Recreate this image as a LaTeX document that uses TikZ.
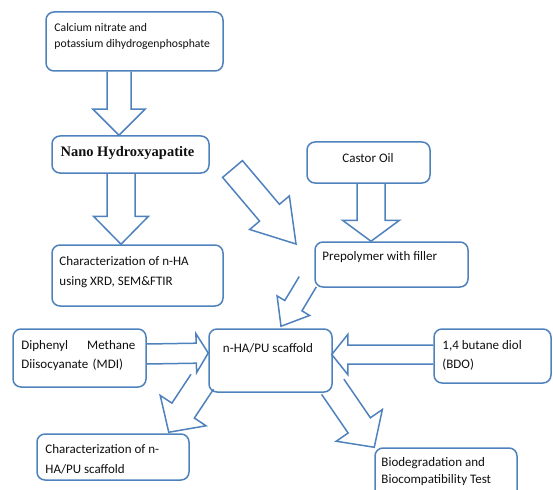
\documentclass[tikz,border=0pt]{standalone}
\usepackage{fontspec}
\setmainfont{Carlito}
\newfontfamily\timesfont{Liberation Serif}
\usetikzlibrary{calc,positioning}
\definecolor{hblue}{RGB}{79,129,189}
\definecolor{inkgrey}{RGB}{15,15,15}

\tikzset{
  box/.style={draw=hblue, line width=1.5pt, rounded corners=8pt, inner sep=0pt},
  txt/.style={inner sep=0pt, anchor=north west, align=left, text=inkgrey, font=\fontsize{13}{20}\selectfont},
  blk/.style={draw=hblue, line width=1.5pt, line join=miter}
}
% hollow block arrow: [end of path], start, tip, shaft half width, head half width, head length
\newcommand{\blkarrow}[6][]{%
  \draw[blk] ($(#2)!#4!90:(#3)$) -- ($(#3)!#6!(#2)!#4!90:(#3)$) -- ($(#3)!#6!(#2)!#5!90:(#3)$)
    -- (#3) -- ($(#3)!#6!(#2)!#5!-90:(#3)$) -- ($(#3)!#6!(#2)!#4!-90:(#3)$) -- ($(#2)!#4!-90:(#3)$) #1;}

\begin{document}
\begin{tikzpicture}[x=1pt,y=-1pt]
\useasboundingbox (0,0) rectangle (553,489);
\clip (0,0) rectangle (553,489);

% boxes
\node[box, minimum width=177pt, minimum height=59pt] (salts) at (134.5,41.5) {};
\node[box, minimum width=157pt, minimum height=37pt] (hyd) at (130.5,154.5) {};
\node[box, minimum width=171pt, minimum height=61pt] (charha) at (137.5,275.5) {};
\node[box, minimum width=123pt, minimum height=41pt] (castor) at (368.5,162.5) {};
\node[box, minimum width=153pt, minimum height=45pt] (prepoly) at (391.5,264.5) {};
\node[box, minimum width=123pt, minimum height=63pt] (scaf) at (270.5,360.5) {};
\node[box, minimum width=133pt, minimum height=58pt] (mdi) at (79.5,358) {};
\node[box, minimum width=117pt, minimum height=54pt] (bdo) at (492.5,356) {};
\node[box, minimum width=152pt, minimum height=46pt] (charpu) at (113,457) {};
\node[box, minimum width=142pt, minimum height=57pt] (biodeg) at (446,476.5) {};

% texts
\node[txt, font=\fontsize{11.7}{16}\selectfont, below right=12pt and 9pt of salts.north west] (saltstxt)
  {Calcium nitrate and\\potassium dihydrogenphosphate};
\node[inner sep=0pt, text=inkgrey, font=\timesfont\bfseries\fontsize{14.5}{16}\selectfont] (hydtxt) at (127.5,153) {Nano Hydroxyapatite};
\node[txt, below right=12pt and 8pt of charha.north west] (charhatxt) {Characterization of n-HA\\using XRD, SEM\&FTIR};
\node[inner sep=0pt, text=inkgrey, font=\fontsize{13}{20}\selectfont] (castortxt) at (368,158) {Castor Oil};
\node[txt, below right=10pt and 8pt of prepoly.north west] (prepolytxt) {Prepolymer with filler};
\node[inner sep=0pt, text=inkgrey, font=\fontsize{13}{20}\selectfont] (scaftxt) at (268,348) {n-HA/PU scaffold};
\node[txt, text width=114pt, font=\fontsize{13}{19}\selectfont, below right=12pt and 9pt of mdi.north west] (mditxt)
  {Diphenyl\hfill Methane\\Diisocyanate (MDI)};
\node[txt, font=\fontsize{13}{19}\selectfont, below right=12pt and 9pt of bdo.north west] (bdotxt) {1,4 butane diol\\(BDO)};
\node[txt, below right=11pt and 9pt of charpu.north west] (charputxt) {Characterization of n-\\HA/PU scaffold};
\node[txt, font=\fontsize{13}{17.5}\selectfont, below right=10pt and 7pt of biodeg.north west] (biodegtxt)
  {Biodegradation and\\Biocompatibility Test};

% arrow ends
\coordinate (a1s) at ($(salts.south)+(-15.5,0)$);
\coordinate (a1e) at ($(hyd.north)+(-11.5,0)$);
\coordinate (a2s) at ($(hyd.south)+(-9.5,0)$);
\coordinate (a2e) at ($(charha.north)+(-16.5,0)$);
\coordinate (a3s) at ($(castor.south)+(2.5,0)$);
\coordinate (a3e) at ($(prepoly.north)+(-20.5,0)$);
\coordinate (a4s) at (232.5,169);
\coordinate (a4e) at (296,244);
\coordinate (a5s) at ($(prepoly.south west)+(-6.5,-6)$);
\coordinate (a5e) at ($(scaf.north)+(10.5,-2)$);
\coordinate (a6s) at ($(mdi.east)+(0,-4)$);
\coordinate (a6e) at ($(scaf.west)+(0,-7.5)$);
\coordinate (a7s) at ($(bdo.west)+(0,-1.5)$);
\coordinate (a7e) at ($(scaf.east)+(-1,-6)$);
\coordinate (a8s) at ($(scaf.south west)+(-6,-11)$);
\coordinate (a8e) at ($(charpu.north east)+(-21,-1)$);
\coordinate (a9s) at ($(scaf.south east)+(0,-6)$);
\coordinate (a9e) at (biodeg.north west);

% block arrows
\blkarrow{a1s}{a1e}{12pt}{26pt}{26pt}
\blkarrow{a2s}{a2e}{14pt}{27.5pt}{28pt}
\blkarrow{a3s}{a3e}{14pt}{28.5pt}{21pt}
\blkarrow[-- cycle]{a4s}{a4e}{13pt}{26pt}{41pt}
\blkarrow{a5s}{a5e}{10pt}{19pt}{24pt}
\blkarrow{a6s}{a6e}{10pt}{19.5pt}{12pt}
\blkarrow{a7s}{a7e}{9.5pt}{20pt}{16pt}
\blkarrow{a8s}{a8e}{13.5pt}{27.5pt}{26pt}
\blkarrow{a9s}{a9e}{13.5pt}{28pt}{26.5pt}
\end{tikzpicture}
\end{document}
